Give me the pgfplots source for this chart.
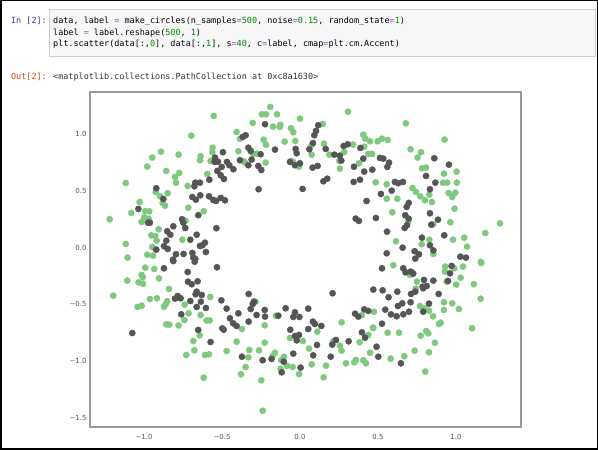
\documentclass[border=0pt]{standalone}
\usepackage{pgfplots}
\pgfplotsset{compat=1.18}
\usepackage{fontspec}
\setmainfont{DejaVu Sans}
\newfontfamily\codefont{DejaVu Sans Mono}
\definecolor{accgreen}{HTML}{7FC97F}
\definecolor{accdark}{HTML}{555555}
\definecolor{promptin}{HTML}{303F9F}
\definecolor{promptout}{HTML}{D84315}
\definecolor{numgreen}{HTML}{008800}
\definecolor{opcol}{HTML}{9A4FC0}
\definecolor{cellbg}{HTML}{F7F7F7}
\definecolor{cellborder}{HTML}{CFCFCF}
\definecolor{axcol}{HTML}{9A9A9A}
\definecolor{ticktext}{HTML}{555555}
\definecolor{outtext}{HTML}{333333}
\newcommand{\cf}{\codefont\fontsize{8.5}{10}\selectfont}
\newcommand{\n}[1]{\textcolor{numgreen}{#1}}
\newcommand{\eq}{\textcolor{opcol}{=}}
\begin{document}
\begin{tikzpicture}[x=1bp,y=1bp]
\fill[white] (0,0) rectangle (598,450);
\filldraw[fill=cellbg,draw=cellborder,line width=0.8bp] (49,394) rectangle (595,441);
\node[anchor=base east,inner sep=0,font=\cf,text=promptin] at (47,426) {In [2]:};
\node[anchor=base west,inner sep=0,font=\cf] at (53,426) {data, label \eq{} make\_circles(n\_samples\eq\n{500}, noise\eq\n{0.15}, random\_state\eq\n{1})};
\node[anchor=base west,inner sep=0,font=\cf] at (53,414.5) {label \eq{} label.reshape(\n{500}, \n{1})};
\node[anchor=base west,inner sep=0,font=\cf] at (53,403) {plt.scatter(data[:,\n{0}], data[:,\n{1}], s\eq\n{40}, c\eq{}label, cmap\eq{}plt.cm.Accent)};
\node[anchor=base east,inner sep=0,font=\cf,text=promptout] at (47,370) {Out[2]:};
\node[anchor=base west,inner sep=0,font=\cf,text=outtext] at (53,370) {<matplotlib.collections.PathCollection at 0xc8a1630>};
\begin{axis}[
  at={(90bp,23bp)}, anchor=south west,
  scale only axis, width=431bp, height=335bp,
  xmin=-1.346, xmax=1.417, ymin=-1.576, ymax=1.365,
  axis line style={axcol, line width=1.2bp},
  tick style={draw=none},
  xtick={-1,-0.5,0,0.5,1}, xticklabels={−1.0,−0.5,0.0,0.5,1.0},
  ytick={-1.5,-1,-0.5,0,0.5,1}, yticklabels={−1.5,−1.0,−0.5,0.0,0.5,1.0},
  ticklabel style={font=\fontsize{7}{8}\selectfont, text=ticktext},
  xticklabel style={yshift=-4bp},
  clip=false,
]
\addplot[only marks, mark=*, mark size=3.1bp, color=accgreen, mark options={draw=none, fill=accgreen}] coordinates {
(-0.553,1.155) (-0.697,0.982) (-0.891,0.841) (-0.947,0.789) (-0.778,0.815) (-0.979,0.710) (-0.857,0.672) (-0.637,0.801) (-0.641,0.766) (-0.560,0.876) (-0.562,0.838) (-0.573,0.759) (-0.801,0.619) (-0.774,0.654) (-0.795,0.569) (-0.594,0.645) (-1.117,0.566) (-0.720,0.540) (-0.925,0.487) (-0.848,0.476) (-0.897,0.449) (-0.880,0.391) (-0.865,0.367) (-1.028,0.399) (-1.081,0.303) (-0.992,0.318) (-0.966,0.318) (-0.998,0.265) (-0.716,0.349) (-0.617,0.318) (-1.220,0.248) (-0.970,0.253) (-1.015,0.224) (-0.733,0.235) (-0.906,0.160) (-0.953,0.107) (-0.928,0.101) (-0.919,0.060) (-0.754,0.068) (-1.117,0.031) (-0.947,0.004) (-1.105,-0.089) (-0.979,-0.063) (-0.942,-0.072)
(-0.190,1.234) (-0.244,1.169) (-0.218,1.169) (-0.147,1.169) (-0.303,1.093) (-0.173,1.061) (-0.126,1.076) (-0.130,1.058) (0.000,1.131) (-0.058,1.047) (-0.043,1.011) (-0.406,1.014) (-0.385,0.955) (-0.233,0.947) (-0.218,0.903) (-0.098,0.929) (-0.030,0.935) (0.146,1.084) (0.308,1.192) (0.154,0.912) (0.075,0.897) (-0.395,0.845) (-0.299,0.821) (-0.274,0.824) (-0.361,0.757) (-0.353,0.745) (-0.220,0.745) (-0.058,0.759) (-0.043,0.751) (-0.006,0.709) (0.075,0.815) (0.188,0.815) (0.252,0.759) (0.256,0.692) (0.340,0.903) (0.284,0.838) (0.406,0.990) (0.419,0.955) (0.412,0.885) (0.378,0.739) (0.438,0.821)
(0.679,1.090) (0.449,0.932) (0.498,0.932) (0.526,0.955) (0.562,0.944) (0.927,0.947) (0.462,0.821) (0.709,0.862) (0.776,0.836) (0.754,0.789) (0.782,0.695) (0.808,0.701) (1.004,0.666) (0.923,0.648) (0.485,0.572) (0.556,0.555) (0.917,0.569) (0.944,0.569) (1.006,0.569) (0.722,0.522) (0.744,0.487) (0.771,0.449) (0.801,0.414) (0.829,0.464) (0.846,0.399) (0.953,0.478) (0.976,0.443) (0.996,0.481) (0.556,0.428) (0.624,0.428) (0.991,0.341) (0.592,0.309) (0.694,0.224) (0.855,0.204) (0.964,0.221) (1.282,0.212) (1.188,0.127) (0.981,0.068) (1.053,0.086) (0.615,0.054) (0.780,0.028) (0.829,0.068) (1.071,0.007) (0.855,-0.057) (1.160,-0.127)
(-0.992,-0.177) (-0.934,-0.189) (-1.015,-0.241) (-1.008,-0.259) (-0.904,-0.271) (-1.107,-0.291) (-1.034,-0.306) (-1.006,-0.318) (-0.840,-0.364) (-1.197,-0.423) (-0.962,-0.452) (-0.917,-0.446) (-0.851,-0.472) (-0.861,-0.499) (-0.872,-0.520) (-1.041,-0.522) (-1.015,-0.511) (-0.739,-0.502) (-0.575,-0.435) (-0.714,-0.578) (-0.741,-0.637) (-0.637,-0.593) (-0.598,-0.640) (-0.579,-0.640) (-0.857,-0.675) (-0.838,-0.678) (-0.778,-0.684) (-0.643,-0.771) (-0.684,-0.821) (-0.677,-0.903) (-0.729,-0.944) (-0.609,-0.944) (-0.583,-0.938) (-0.470,-0.909) (-0.617,-1.143)
(-0.284,-0.476) (-0.372,-0.716) (-0.226,-0.684) (-0.154,-0.599) (-0.406,-0.827) (-0.226,-0.836) (-0.325,-0.900) (-0.263,-0.903) (-0.331,-0.964) (-0.348,-1.049) (-0.378,-1.113) (-0.160,-0.924) (-0.175,-0.953) (-0.103,-0.959) (-0.120,-0.990) (-0.083,-1.040) (-0.124,-1.064) (-0.047,-1.049) (-0.248,-1.166) (-0.239,-1.433) (-0.064,-0.795) (-0.006,-1.111) (0.019,-0.821) (0.058,-0.888) (0.111,-0.739) (0.075,-1.026) (0.167,-1.038) (0.152,-1.140) (0.267,-0.657) (0.214,-0.821) (0.256,-0.862) (0.267,-0.906) (0.295,-1.017) (0.348,-1.008) (0.359,-0.988) (0.406,-0.990) (0.423,-1.017) (0.382,-0.832) (0.438,-0.768) (0.449,-0.924) (0.470,-0.707) (0.397,-0.593)
(0.598,-0.156) (0.720,-0.218) (0.705,-0.241) (0.931,-0.168) (0.929,-0.212) (0.940,-0.300) (0.989,-0.183) (1.045,-0.168) (1.030,-0.265) (1.162,-0.136) (1.115,-0.323) (1.158,-0.450) (1.002,-0.326) (0.750,-0.300) (0.742,-0.362) (0.923,-0.481) (0.976,-0.490) (1.019,-0.540) (0.923,-0.549) (0.769,-0.514) (0.797,-0.534) (0.827,-0.555) (0.853,-0.604) (0.902,-0.660) (0.891,-0.672) (1.103,-0.709) (0.474,-0.564) (0.468,-0.704) (0.562,-0.748) (0.635,-0.748) (0.774,-0.774) (0.808,-0.733) (0.823,-0.753) (0.865,-0.836) (0.735,-0.906) (0.827,-0.920) (0.581,-0.976) (0.669,-0.955) (0.803,-1.090)
};
\addplot[only marks, mark=*, mark size=3.1bp, color=accdark, mark options={draw=none, fill=accdark}] coordinates {
(-0.494,0.836) (-0.545,0.789) (-0.547,0.751) (-0.526,0.753) (-0.468,0.751) (-0.453,0.722) (-0.427,0.687) (-0.530,0.672) (-0.502,0.707) (-0.508,0.634) (-0.487,0.601) (-0.581,0.595) (-0.671,0.569) (-0.641,0.569) (-0.677,0.537) (-0.921,0.520) (-0.690,0.443) (-0.667,0.420) (-0.639,0.458) (-0.583,0.449) (-0.556,0.417) (-0.538,0.408) (-0.508,0.435) (-0.481,0.414) (-0.876,0.426) (-1.036,0.338) (-0.974,0.218) (-0.962,0.218) (-0.756,0.248) (-0.748,0.218) (-0.652,0.283) (-0.735,0.171) (-0.536,0.169) (-0.812,0.186) (-0.851,0.142) (-0.831,0.112) (-0.662,0.112) (-0.703,0.068) (-0.857,0.060) (-0.609,0.042) (-0.626,0.019) (-0.641,0.013) (-0.872,0.011) (-0.848,-0.013) (-0.921,-0.019) (-0.603,-0.040) (-0.795,-0.060) (-0.746,-0.057) (-0.690,-0.048) (-0.684,-0.089) (-0.671,-0.101) (-0.814,-0.107)
(-0.224,1.082) (0.117,1.073) (0.103,1.023) (0.092,0.985) (-0.348,0.985) (-0.367,0.970) (0.083,0.917) (-0.331,0.876) (-0.316,0.847) (-0.252,0.818) (-0.160,0.859) (-0.028,0.865) (-0.021,0.827) (0.060,0.862) (0.165,0.865) (0.220,0.815) (0.256,0.806) (0.265,0.762) (0.280,0.891) (0.306,0.906) (0.387,0.874) (0.406,0.780) (-0.385,0.766) (-0.331,0.722) (-0.310,0.771) (-0.267,0.716) (-0.248,0.680) (-0.064,0.751) (-0.032,0.722) (0.000,0.739) (0.081,0.701) (0.113,0.716) (0.346,0.709) (0.412,0.666) (0.150,0.581) (0.175,0.604) (0.344,0.575) (0.385,0.595) (-0.265,0.511) (0.017,0.514) (0.427,0.408) (0.357,0.253) (0.378,0.233)
(0.513,0.786) (0.534,0.780) (0.571,0.745) (0.560,0.707) (0.464,0.683) (0.861,0.783) (0.955,0.727) (0.808,0.628) (0.609,0.575) (0.630,0.564) (0.660,0.575) (0.868,0.569) (0.588,0.499) (0.519,0.470) (0.833,0.511) (0.697,0.391) (0.684,0.356) (0.833,0.300) (0.487,0.259) (0.675,0.283) (0.697,0.253) (0.686,0.195) (0.671,0.171) (0.885,0.244) (0.842,0.200) (0.558,0.139) (0.925,0.107) (0.782,0.086) (0.833,0.019) (0.855,-0.025) (0.658,-0.002) (0.556,-0.051) (0.735,-0.033) (0.763,-0.060) (0.739,-0.098) (1.028,-0.081) (1.064,-0.089)
(-0.675,-0.125) (-0.812,-0.119) (-0.532,-0.174) (-0.872,-0.183) (-0.720,-0.215) (-0.718,-0.300) (-0.694,-0.323) (-0.656,-0.297) (-0.662,-0.388) (-0.669,-0.411) (-0.630,-0.417) (-0.784,-0.426) (-0.801,-0.449) (-0.765,-0.446) (-0.703,-0.470) (-0.635,-0.476) (-0.603,-0.531) (-0.662,-0.522) (-0.504,-0.464) (-0.470,-0.537) (-0.761,-0.587) (-0.652,-0.724) (-0.489,-0.722) (-0.498,-0.710) (-1.075,-0.751) (-0.573,-0.830)
(-0.329,-0.408) (0.209,-0.402) (0.470,-0.370) (-0.303,-0.496) (-0.295,-0.476) (-0.316,-0.540) (-0.226,-0.549) (-0.278,-0.593) (-0.224,-0.607) (-0.139,-0.599) (-0.092,-0.534) (-0.032,-0.569) (-0.043,-0.610) (-0.004,-0.610) (0.053,-0.537) (-0.449,-0.622) (-0.428,-0.666) (-0.406,-0.689) (-0.395,-0.578) (-0.329,-0.651) (-0.062,-0.722) (-0.032,-0.777) (-0.006,-0.768) (-0.021,-0.815) (0.053,-0.716) (0.083,-0.651) (0.096,-0.672) (0.137,-0.689) (0.109,-0.856) (-0.043,-0.932) (0.085,-0.947) (0.197,-0.959) (0.207,-0.853) (0.231,-0.812) (0.312,-0.824) (-0.372,-0.959) (-0.239,-0.990) (-0.182,-0.979) (-0.104,-1.003) (-0.117,-1.096) (0.004,-1.055) (0.353,-0.581) (0.374,-0.607) (0.412,-0.543) (0.438,-0.557) (0.397,-0.745) (0.417,-0.792)
(0.526,-0.183) (0.662,-0.183) (0.677,-0.218) (0.709,-0.212) (0.726,-0.230) (0.972,-0.162) (0.962,-0.227) (0.949,-0.294) (0.795,-0.285) (0.855,-0.291) (0.786,-0.344) (0.812,-0.338) (0.790,-0.358) (0.530,-0.376) (0.624,-0.388) (0.712,-0.408) (0.739,-0.388) (0.889,-0.408) (0.568,-0.437) (0.656,-0.490) (0.628,-0.514) (0.709,-0.481) (0.827,-0.493) (0.547,-0.546) (0.583,-0.587) (0.620,-0.604) (0.662,-0.587) (0.699,-0.564) (0.790,-0.564) (0.526,-0.669) (0.491,-0.871) (0.502,-0.959) (0.647,-1.017)
};
\end{axis}
\draw[black,line width=1.5bp] (0.75,0.75) rectangle (597.25,449.25);
\useasboundingbox (0,0) rectangle (598,450);
\end{tikzpicture}
\end{document}
